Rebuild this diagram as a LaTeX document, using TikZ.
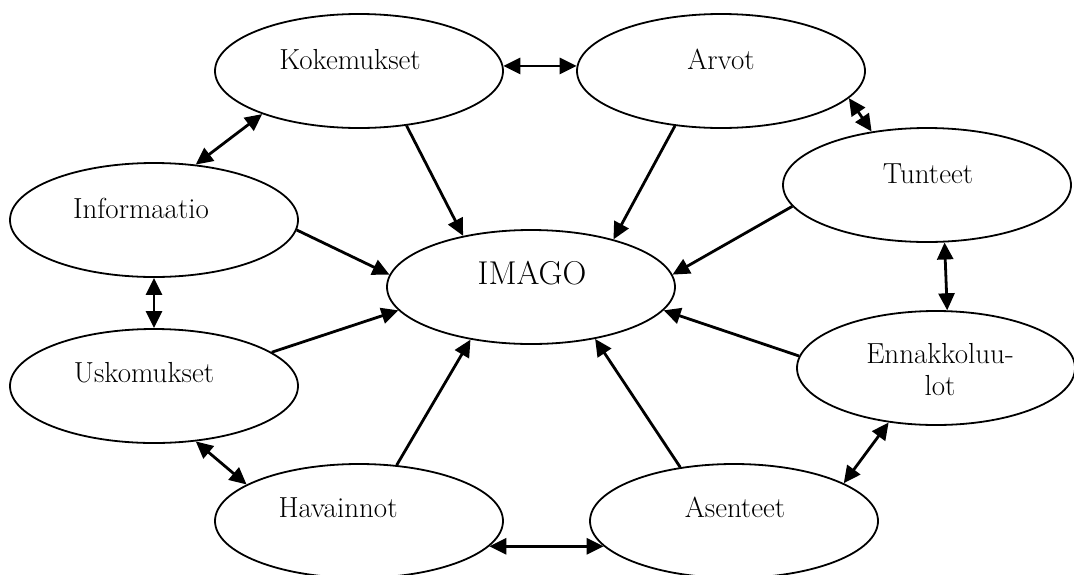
\documentclass[tikz,border=0pt]{standalone}
\usepackage{fontspec}
\usetikzlibrary{shapes.geometric,arrows.meta}
\begin{document}
\begin{tikzpicture}[x=1pt,y=-1pt,
  bubble/.style={ellipse, draw, line width=1.8pt, minimum width=288pt,
    minimum height=114pt, inner sep=0pt},
  lbl/.style={font=\fontsize{29}{32}\selectfont, inner sep=0pt, anchor=base},
  tip/.tip={Triangle[length=17pt,width=16pt]},
  link/.style={line width=2.8pt, -tip},
  both/.style={line width=2.8pt, tip-tip}]
\useasboundingbox (0,0) rectangle (1074,574);

% the nine concepts
\node[bubble] (kok) at (359,71) {};
\node[bubble] (arv) at (721,71) {};
\node[bubble] (tun) at (927,185) {};
\node[bubble] (inf) at (154,220) {};
\node[bubble] (img) at (531,287) {};
\node[bubble] (usk) at (154,386) {};
\node[bubble, minimum width=278pt] (enn) at (936,368) {};
\node[bubble] (hav) at (359,521) {};
\node[bubble] (ase) at (734,521) {};

% their captions
\node[lbl] (kok-t) at ([shift={(-9,-2)}]kok.center) {Kokemukset};
\node[lbl] (arv-t) at ([shift={(0,-2)}]arv.center) {Arvot};
\node[lbl] (tun-t) at ([shift={(1,-2)}]tun.center) {Tunteet};
\node[lbl] (inf-t) at ([shift={(-13,-2)}]inf.center) {Informaatio};
\node[lbl, font=\fontsize{33}{36}\selectfont] (img-t) at ([shift={(1,-3)}]img.center) {IMAGO};
\node[lbl] (usk-t) at ([shift={(-10,-4)}]usk.center) {Uskomukset};
\node[lbl, align=center] (enn-t) at ([shift={(4,27)}]enn.center) {Ennakkoluu-\\lot};
\node[lbl] (hav-t) at ([shift={(-21,-4)}]hav.center) {Havainnot};
\node[lbl] (ase-t) at ([shift={(1,-4)}]ase.center) {Asenteet};

% links between neighbours
\draw[both] (kok.2) -- (arv.178);
\draw[both] (kok.204) -- (inf.53);
\draw[both] (arv.348) -- (tun.136);
\draw[both] (tun.287) -- (enn.79);
\draw[both] (enn.229) -- (ase.19);
\draw[both] (hav.349) -- (ase.191);
\draw[both] (usk.307) -- (hav.162);
\draw[both] (inf.south) -- (usk.north);

% everything feeds the image
\draw[link] (kok.311) -- (img.143);
\draw[link] (arv.230) -- (img.30);
\draw[link] (tun.189) -- (img.5);
\draw[link] (enn.175) -- (img.350);
\draw[link] (ase.135) -- (img.321);
\draw[link] (hav.56) -- (img.221);
\draw[link] (usk.16) -- (img.190);
\draw[link] (inf.356) -- (img.175);
\end{tikzpicture}
\end{document}
